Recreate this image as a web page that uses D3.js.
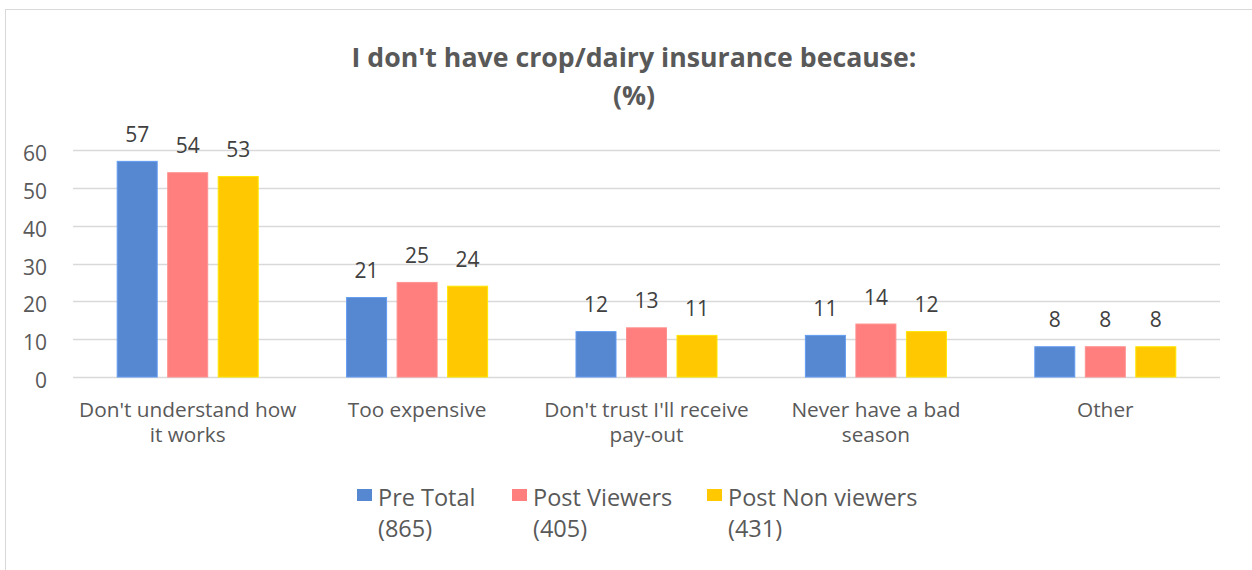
<!DOCTYPE html>
<html>
<head>
<meta charset="utf-8">
<script src="https://cdn.jsdelivr.net/npm/d3@7"></script>
<style>
  html, body { margin: 0; padding: 0; background: #fff; }
  svg { display: block; font-family: "Open Sans", "Noto Sans", sans-serif; }
</style>
</head>
<body>
<svg id="chart" width="1252" height="570"></svg>
<script>
// Reasons for not having crop/dairy insurance (%)
const categories = [
  ["Don't understand how", "it works"],
  ["Too expensive"],
  ["Don't trust I'll receive", "pay-out"],
  ["Never have a bad", "season"],
  ["Other"]
];
const seriesNames = [["Pre Total", "(865)"], ["Post Viewers", "(405)"], ["Post Non viewers", "(431)"]];
const seriesColors = ["#5687d1", "#ff7f7e", "#ffc800"];
const preTotal = [57, 21, 12, 11, 8];
const postViewers = [54, 25, 13, 14, 8];
const postNonViewers = [53, 24, 11, 12, 8];
const yTicks = [0, 10, 20, 30, 40, 50, 60];

const series = [preTotal, postViewers, postNonViewers];
const textColor = "#595959";
const svg = d3.select("#chart");

// Chart frame (only top and left edges fall within the view)
svg.append("rect")
  .attr("x", 5.5).attr("y", 9.5)
  .attr("width", 1262).attr("height", 580)
  .attr("fill", "none").attr("stroke", "#d9d9d9").attr("stroke-width", 1);

// Title
const title = svg.append("text")
  .attr("x", 634).attr("text-anchor", "middle")
  .attr("fill", textColor).attr("font-weight", "bold").attr("font-size", 26.7);
title.append("tspan").attr("x", 634).attr("y", 67).text("I don't have crop/dairy insurance because:");
title.append("tspan").attr("x", 634).attr("y", 105).text("(%)");

const plotLeft = 73, plotRight = 1220;
const y = d3.scaleLinear().domain([0, 60]).range([377, 150]);
const x0 = d3.scaleBand().domain(d3.range(categories.length)).range([plotLeft, plotRight]).paddingInner(0).paddingOuter(0);
const x1 = d3.scaleBand().domain(d3.range(series.length)).range([0, x0.bandwidth()]).paddingInner(0.208).paddingOuter(0.875);

// Gridlines
svg.append("g")
  .selectAll("line").data(yTicks).join("line")
  .attr("x1", plotLeft).attr("x2", plotRight)
  .attr("y1", d => Math.round(y(d)) + 0.5).attr("y2", d => Math.round(y(d)) + 0.5)
  .attr("stroke", "#d9d9d9").attr("stroke-width", 1.3);

// Y axis labels
const yAxis = d3.axisLeft(y).tickValues(yTicks).tickSize(0).tickPadding(0);
const yg = svg.append("g").attr("transform", "translate(47,0)").call(yAxis);
yg.select(".domain").remove();
yg.selectAll("text").attr("fill", textColor).attr("font-size", 21)
  .attr("font-family", "'Open Sans', 'Noto Sans', sans-serif").attr("dy", 10.5);

// Bars
const groups = svg.append("g").selectAll("g").data(categories.map((c, i) => i)).join("g")
  .attr("transform", i => `translate(${x0(i)},0)`);

groups.selectAll("rect").data(i => series.map((s, k) => ({ k, v: s[i] }))).join("rect")
  .attr("x", d => x1(d.k)).attr("width", x1.bandwidth())
  .attr("y", d => y(d.v)).attr("height", d => y(0) - y(d.v))
  .attr("fill", d => seriesColors[d.k])
  .attr("stroke", d => d3.color(seriesColors[d.k]).brighter(0.4))
  .attr("stroke-width", 1);

// Value labels
groups.selectAll("text").data(i => series.map((s, k) => ({ k, v: s[i] }))).join("text")
  .attr("x", d => x1(d.k) + x1.bandwidth() / 2)
  .attr("y", d => y(d.v) - 19.5)
  .attr("text-anchor", "middle").attr("fill", "#404040").attr("font-size", 21)
  .text(d => d.v);

// Category labels
const catText = svg.append("g").selectAll("text").data(categories).join("text")
  .attr("text-anchor", "middle").attr("fill", textColor).attr("font-size", 20.8);
catText.each(function (lines, i) {
  const cx = x0(i) + x0.bandwidth() / 2;
  d3.select(this).selectAll("tspan").data(lines).join("tspan")
    .attr("x", cx).attr("y", (d, j) => 417 + j * 25).text(d => d);
});

// Legend
const legendX = [357, 512, 707];
const legend = svg.append("g").selectAll("g").data(seriesNames).join("g")
  .attr("transform", (d, k) => `translate(${legendX[k]},0)`);
legend.append("rect").attr("x", 0).attr("y", 489).attr("width", 15).attr("height", 12)
  .attr("fill", (d, k) => seriesColors[k]);
legend.append("text").attr("fill", textColor).attr("font-size", 23.5)
  .selectAll("tspan").data(d => d).join("tspan")
  .attr("x", 21).attr("y", (d, j) => 506 + j * 31).text(d => d);
</script>
</body>
</html>
